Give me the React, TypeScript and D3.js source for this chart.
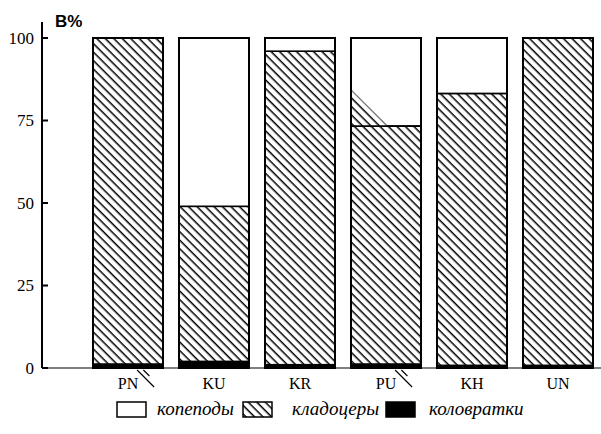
import React from "react";
import * as d3 from "d3";

const categories = ["PN", "KU", "KR", "PU", "KH", "UN"];
const rotifers = [1.2, 2, 1, 1.2, 0.8, 0.8];
const cladocerans = [98.8, 47, 95, 72.1, 82.4, 99.2];
const copepods = [0, 51, 4, 26.7, 16.8, 0];
const yTicks = [0, 25, 50, 75, 100];
const legendLabels = ["копеподы", "кладоцеры", "коловратки"];
// stray hatch fragments visible in the original drawing
const strayBelow = ["PN", "PU"];
const strayAbove = [{ cat: "PU", level: 84.5 }];

const W = 601;
const H = 434;
const SERIF = "Liberation Serif";
const SANS = "Liberation Sans";

export default function App() {
  const y = d3.scaleLinear().domain([0, 100]).range([368, 38]);
  const x = d3
    .scaleBand<string>()
    .domain(categories)
    .range([85, 601])
    .paddingInner(0.186)
    .paddingOuter(0.093);
  const bw = x.bandwidth();

  const stacked = categories.map((c, i) => {
    const r0 = 0, r1 = rotifers[i];
    const c1 = r1 + cladocerans[i];
    const p1 = c1 + copepods[i];
    return { c, segs: [
      { key: "rot", y0: r0, y1: r1 },
      { key: "clad", y0: r1, y1: c1 },
      { key: "cop", y0: c1, y1: p1 },
    ] };
  });

  const fillFor = (k: string) =>
    k === "rot" ? "#000" : k === "clad" ? "url(#hatch)" : "#fff";

  const legendX = [117, 243, 386];
  const legendTextX = [157, 292, 429];
  const legendKeys = ["cop", "clad", "rot"];

  return (
    <svg width={W} height={H} fontFamily={SERIF} style={{ position: "absolute", left: 0, top: 0 }}>
      <defs>
        <pattern id="hatch" patternUnits="userSpaceOnUse" width="6" height="6" patternTransform="rotate(45)">
          <rect width="6" height="6" fill="#fff" />
          <line x1="0" y1="0.75" x2="6" y2="0.75" stroke="#000" strokeWidth="1.5" />
        </pattern>
        {strayAbove.map((a) => {
          const i = categories.indexOf(a.cat);
          const top = rotifers[i] + cladocerans[i];
          const x0 = x(a.cat)!;
          const h = y(top) - y(a.level);
          const pts = [
            [x0, y(top) + 2],
            [x0, y(a.level)],
            [x0 + h + 2, y(top) + 2],
          ];
          return (
            <clipPath id={"stray-" + a.cat} key={a.cat}>
              <polygon points={pts.map((p) => p.join(",")).join(" ")} />
            </clipPath>
          );
        })}
      </defs>
      <rect width={W} height={H} fill="#fff" />
      <line x1={42} x2={601} y1={y(0)} y2={y(0)} stroke="#000" strokeWidth={1.2} />
      {stacked.map((b) => (
        <g key={b.c}>
          {b.segs.filter((s) => s.y1 > s.y0).map((s) => (
            <rect
              key={s.key}
              x={x(b.c)!}
              y={y(s.y1)}
              width={bw}
              height={y(s.y0) - y(s.y1)}
              fill={fillFor(s.key)}
              stroke="#000"
              strokeWidth={s.key === "rot" ? 0 : 1.6}
            />
          ))}
          {strayAbove.filter((a) => a.cat === b.c).map((a) => (
            <rect
              key="sa"
              x={x(b.c)!}
              y={y(a.level)}
              width={bw}
              height={y(0) - y(a.level)}
              fill="url(#hatch)"
              clipPath={`url(#stray-${a.cat})`}
            />
          ))}
          <rect x={x(b.c)!} y={y(100)} width={bw} height={y(0) - y(100)} fill="none" stroke="#000" strokeWidth={2} />
          {strayAbove.filter((a) => a.cat === b.c).map((a, k) => {
            const i = categories.indexOf(a.cat);
            const top = rotifers[i] + cladocerans[i];
            return (
              <line key={"l" + k} x1={x(b.c)!} x2={x(b.c)! + bw} y1={y(top)} y2={y(top)} stroke="#000" strokeWidth={1.6} />
            );
          })}
          {strayBelow.includes(b.c) && (
            <g stroke="#000" strokeWidth={1.2}>
              <line x1={x(b.c)! + bw * 0.63} y1={y(0) + 2} x2={x(b.c)! + bw * 0.63 + 17} y2={y(0) + 19} />
              <line x1={x(b.c)! + bw * 0.72} y1={y(0) + 2} x2={x(b.c)! + bw * 0.72 + 6} y2={y(0) + 8} />
            </g>
          )}
          <text x={x(b.c)! + bw / 2} y={389} textAnchor="middle" fontSize={16}>
            {b.c}
          </text>
        </g>
      ))}
      <line x1={42} x2={42} y1={22} y2={y(0)} stroke="#000" strokeWidth={2} />
      {yTicks.map((t) => (
        <g key={t}>
          <line x1={42} x2={48} y1={y(t)} y2={y(t)} stroke="#000" strokeWidth={2} />
          <text x={34} y={y(t) + 5.5} textAnchor="end" fontSize={17}>
            {t}
          </text>
        </g>
      ))}
      <text x={55} y={27} fontFamily={SANS} fontWeight="bold" fontSize={17}>
        B%
      </text>
      {legendLabels.map((l, i) => (
        <g key={l}>
          <rect
            x={legendX[i]}
            y={402}
            width={29}
            height={15}
            fill={fillFor(legendKeys[i])}
            stroke="#000"
            strokeWidth={1.5}
          />
          <text x={legendTextX[i]} y={415} fontStyle="italic" fontSize={19}>
            {l}
          </text>
        </g>
      ))}
    </svg>
  );
}
